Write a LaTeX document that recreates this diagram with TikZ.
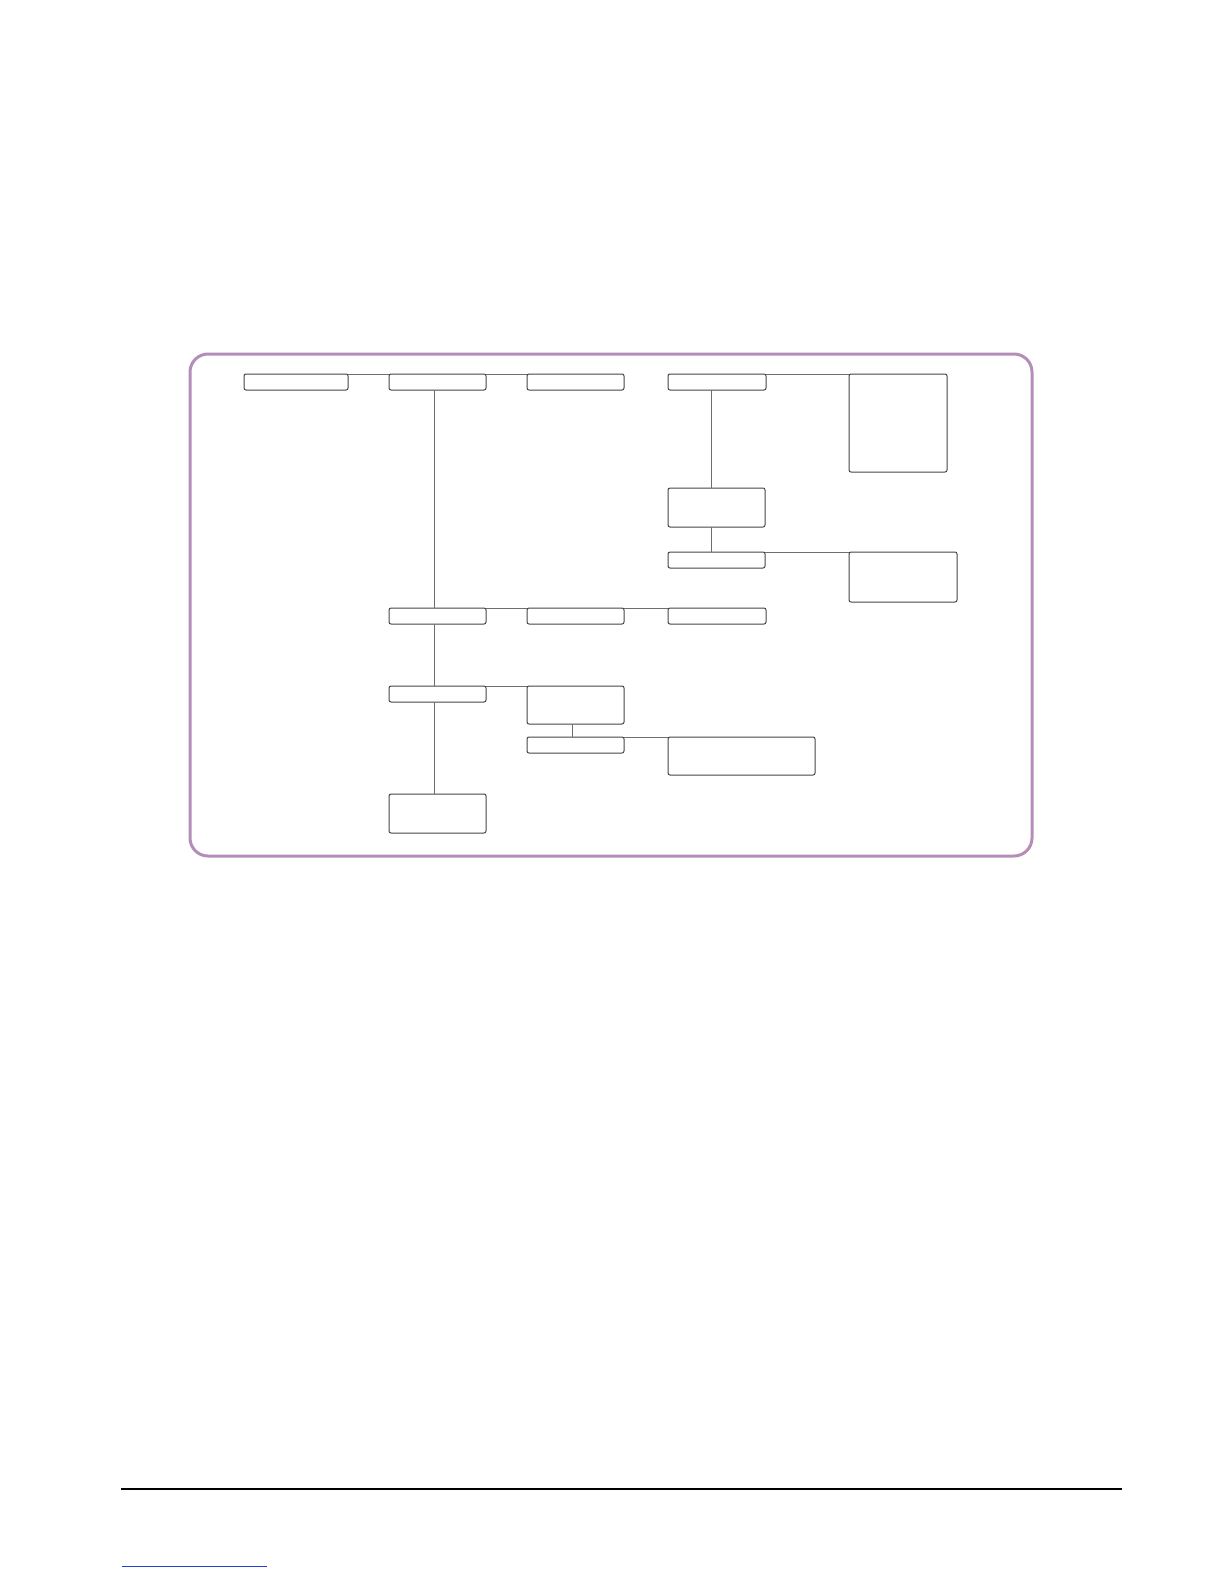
\documentclass[tikz,border=0pt]{standalone}
\usetikzlibrary{positioning}
\definecolor{framepurple}{RGB}{180,142,184}
\definecolor{boxline}{RGB}{70,70,70}
\definecolor{connline}{RGB}{110,110,110}
\definecolor{linkblue}{RGB}{40,60,220}
\tikzset{
  box/.style={draw=boxline, line width=1pt, rounded corners=2pt, inner sep=0pt, outer sep=0pt, anchor=north west},
  conn/.style={draw=connline, line width=1pt},
  frameline/.style={draw=framepurple, line width=3pt, rounded corners=18pt},
}
\begin{document}
\begin{tikzpicture}[x=1pt,y=-1pt]
\useasboundingbox (0,0) rectangle (1224,1584);
\fill[white] (0,0) rectangle (1224,1584);
% frame
\draw[frameline] (190,354) rectangle (1032,856);
% boxes
\node[box, minimum width=104, minimum height=16] (A) at (244,374) {};
\node[box, minimum width=97, minimum height=16] (B) at (389,374) {};
\node[box, minimum width=97, minimum height=16] (C) at (527,374) {};
\node[box, minimum width=98, minimum height=16] (D) at (668,374) {};
\node[box, minimum width=98, minimum height=98] (E) at (849,374) {};
\node[box, minimum width=97, minimum height=39] (D2) at (668,488) {};
\node[box, minimum width=97, minimum height=16] (D3) at (668,552) {};
\node[box, minimum width=108, minimum height=50] (F) at (849,552) {};
\node[box, minimum width=97, minimum height=16] (G) at (389,608) {};
\node[box, minimum width=97, minimum height=16] (H) at (527,608) {};
\node[box, minimum width=98, minimum height=16] (H3) at (668,608) {};
\node[box, minimum width=97, minimum height=16] (I) at (389,686) {};
\node[box, minimum width=97, minimum height=38] (J) at (527,686) {};
\node[box, minimum width=97, minimum height=16] (K) at (527,737) {};
\node[box, minimum width=147, minimum height=38] (L) at (668,737) {};
\node[box, minimum width=97, minimum height=39] (M) at (389,794) {};
% connectors along top edges
\draw[conn] (A.north east) -- (B.north west);
\draw[conn] (B.north east) -- (C.north west);
\draw[conn] (D.north east) -- (E.north west);
\draw[conn] (D3.north east) -- (F.north west);
\draw[conn] (G.north east) -- (H.north west);
\draw[conn] (H.north east) -- (H3.north west);
\draw[conn] (I.north east) -- (J.north west);
\draw[conn] (K.north east) -- (L.north west);
% vertical connectors
\draw[conn] ([xshift=-3.5]B.south) -- ([xshift=-3.5]G.north);
\draw[conn] ([xshift=-3.5]G.south) -- ([xshift=-3.5]I.north);
\draw[conn] ([xshift=-3.5]I.south) -- ([xshift=-3.5]M.north);
\draw[conn] ([xshift=-6]D.south) -- ([xshift=-5.5]D2.north);
\draw[conn] ([xshift=-5.5]D2.south) -- ([xshift=-5.5]D3.north);
\draw[conn] ([xshift=-3.5]J.south) -- ([xshift=-3.5]K.north);
% footer rule and link underline
\coordinate (f1) at (121,1489);
\coordinate (f2) at (1122,1489);
\draw[black, line width=1.5pt] (f1) -- (f2);
\coordinate (l1) at (122,1566);
\coordinate (l2) at (267,1566);
\draw[linkblue, line width=0.8pt] (l1) -- (l2);
\end{tikzpicture}
\end{document}
